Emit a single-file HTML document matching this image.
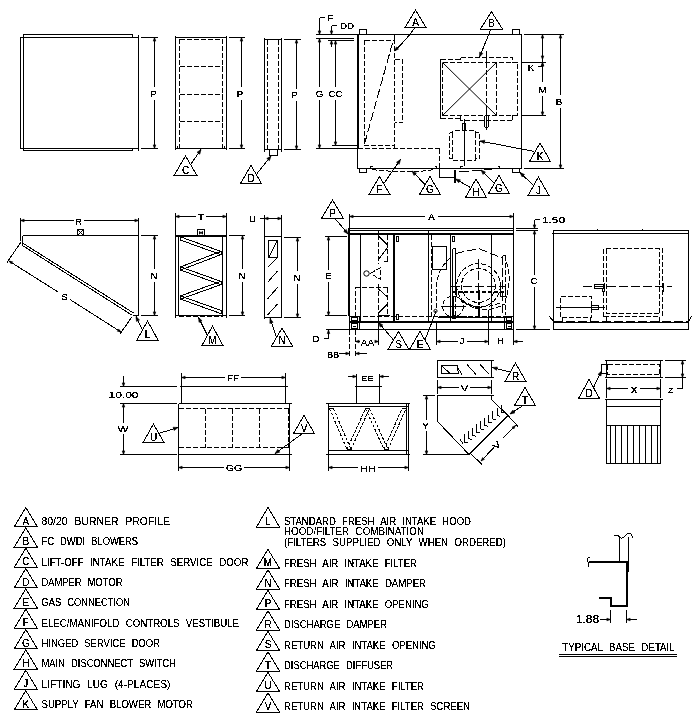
<!DOCTYPE html>
<html><head><meta charset="utf-8"><title>Unit dimensions</title>
<style>
html,body{margin:0;padding:0;background:#fff;}
body{width:700px;height:722px;overflow:hidden;font-family:"Liberation Sans",sans-serif;}
svg{display:block;position:absolute;left:0;top:0;}
.l{fill:none;stroke:#000;stroke-width:1;}
.d{fill:none;stroke:#000;stroke-width:1;stroke-dasharray:5 2;}
.d2{fill:none;stroke:#000;stroke-width:1;stroke-dasharray:3 1.5;}
.dl{fill:none;stroke:#000;stroke-width:1;stroke-dasharray:9 3;}
.k{fill:none;stroke:#000;stroke-width:2;}
.kl{fill:none;stroke:#000;stroke-width:2;stroke-dasharray:10 2 3 2;}
.kd{fill:none;stroke:#000;stroke-width:2;stroke-dasharray:4 2;}
.dx{fill:none;stroke:#000;stroke-width:1;}
.lg2{fill:none;stroke:#000;stroke-width:1;shape-rendering:geometricPrecision;}
.a{fill:#000;stroke:#000;stroke-width:.6;shape-rendering:geometricPrecision;}
.f{fill:#000;stroke:none;}
.tx,.lg{font-family:"Liberation Sans",sans-serif;fill:#000;}
.lg{word-spacing:4px;}
</style></head><body>
<svg width="700" height="722" viewBox="0 0 700 722" shape-rendering="crispEdges">
<defs><filter id="th" x="0" y="0" width="700" height="722" filterUnits="userSpaceOnUse" color-interpolation-filters="sRGB"><feComponentTransfer><feFuncA type="discrete" tableValues="0 0 0 1 1 1 1 1"/></feComponentTransfer></filter><filter id="th2" x="0" y="0" width="700" height="722" filterUnits="userSpaceOnUse" color-interpolation-filters="sRGB"><feComponentTransfer><feFuncA type="discrete" tableValues="0 0 1 1 1 1"/></feComponentTransfer></filter></defs>
<rect x="0" y="0" width="700" height="722" fill="#fff"/>
<path class="l" d="M23 34.5L132.5 34.5"/>
<path class="l" d="M20 37.5L138 37.5"/>
<path class="l" d="M132.5 34.5L132.5 37.5"/>
<path class="l" d="M20 148.5L138 148.5"/>
<path class="l" d="M23 150.5L132.5 150.5"/>
<path class="l" d="M132.5 148.5L132.5 150.5"/>
<path class="l" d="M20.5 37.5L20.5 148.5"/>
<path class="l" d="M23.5 34.5L23.5 150.5"/>
<path class="l" d="M138.5 35L138.5 151"/>
<path class="l" d="M141 37.5L158 37.5"/>
<path class="l" d="M141 148.5L158 148.5"/>
<path class="l" d="M154.5 37.5L154.5 87"/>
<path class="l" d="M154.5 100L154.5 148.5"/>
<path class="a" d="M154.5 37.5L155.8 41.1L153.2 41.1Z"/>
<path class="a" d="M154.5 148.5L153.2 144.9L155.8 144.9Z"/>
<path class="l" d="M175.5 35.5L175.5 150"/>
<path class="l" d="M226.5 35.5L226.5 150"/>
<path class="l" d="M175.5 37.5L226.5 37.5"/>
<path class="l" d="M175.5 148.5L226.5 148.5"/>
<path class="d" d="M179.5 39L179.5 148.5"/>
<path class="d" d="M222.5 39L222.5 148.5"/>
<path class="d" d="M179.5 39.5L222.5 39.5"/>
<path class="d" d="M179.5 66.5L222.5 66.5"/>
<path class="d" d="M179.5 94.5L222.5 94.5"/>
<path class="d" d="M179.5 121.5L222.5 121.5"/>
<path class="l" d="M177.5 146L177.5 148.5"/>
<path class="l" d="M224.5 146L224.5 148.5"/>
<path class="l" d="M229 37.5L245 37.5"/>
<path class="l" d="M229 148.5L245 148.5"/>
<path class="l" d="M241.5 37.5L241.5 87"/>
<path class="l" d="M241.5 100L241.5 148.5"/>
<path class="a" d="M241.5 37.5L242.8 41.1L240.2 41.1Z"/>
<path class="a" d="M241.5 148.5L240.2 144.9L242.8 144.9Z"/>
<path class="l" d="M185.5 156L174 175.5L197 175.5Z"/>
<path class="l" d="M191 164L201 149.5"/>
<path class="a" d="M201 149.5L199.79 154.25L196.99 152.32Z"/>
<path class="l" d="M264.5 37.5L264.5 152"/>
<path class="l" d="M281.5 37.5L281.5 152"/>
<path class="l" d="M264.5 39.5L281.5 39.5"/>
<path class="l" d="M264.5 149.5L281.5 149.5"/>
<path class="d" d="M267.5 39.5L267.5 149.5"/>
<path class="d" d="M278.5 39.5L278.5 149.5"/>
<path class="l" d="M269.5 149.5L277.5 149.5L277.5 155L269.5 155Z"/>
<path class="l" d="M284 39.5L300.5 39.5"/>
<path class="l" d="M284 149.5L300.5 149.5"/>
<path class="l" d="M296.5 39.5L296.5 89"/>
<path class="l" d="M296.5 101L296.5 149.5"/>
<path class="a" d="M296.5 39.5L297.8 43.1L295.2 43.1Z"/>
<path class="a" d="M296.5 149.5L295.2 145.9L297.8 145.9Z"/>
<path class="l" d="M251 165.5L240.5 183.5L261.5 183.5Z"/>
<path class="l" d="M257 173.5L271 156"/>
<path class="a" d="M271 156L269.45 160.65L266.8 158.53Z"/>
<path class="l" d="M316 34.5L357.5 34.5"/>
<path class="l" d="M316 38.5L354 38.5"/>
<path class="l" d="M327.5 40.5L354 40.5"/>
<path class="l" d="M319.5 17.5L319.5 34.5"/>
<path class="l" d="M319.5 17.5L325 17.5"/>
<path class="a" d="M319.5 34.5L318.2 30.9L320.8 30.9Z"/>
<path class="l" d="M331.5 25.5L331.5 34.5"/>
<path class="l" d="M331.5 25.5L337 25.5"/>
<path class="a" d="M331.5 34.5L330.2 30.9L332.8 30.9Z"/>
<path class="a" d="M331.5 40.5L332.8 44.1L330.2 44.1Z"/>
<path class="l" d="M331.5 40.5L331.5 47"/>
<path class="l" d="M319.5 38.5L319.5 87"/>
<path class="l" d="M319.5 100L319.5 148.5"/>
<path class="a" d="M319.5 38.5L320.8 42.1L318.2 42.1Z"/>
<path class="a" d="M319.5 148.5L318.2 144.9L320.8 144.9Z"/>
<path class="l" d="M335.5 40.5L335.5 87"/>
<path class="l" d="M335.5 100L335.5 145.5"/>
<path class="a" d="M335.5 40.5L336.8 44.1L334.2 44.1Z"/>
<path class="a" d="M335.5 145.5L334.2 141.9L336.8 141.9Z"/>
<path class="l" d="M316 148.5L357.5 148.5"/>
<path class="l" d="M332 145.5L357.5 145.5"/>
<path class="l" d="M357.5 34.5L521.5 34.5"/>
<path class="k" d="M358 34L358 149"/>
<path class="l" d="M357.5 149L357.5 168.5"/>
<path class="l" d="M521.5 34.5L521.5 168.5"/>
<path class="l" d="M357.5 168.5L521.5 168.5"/>
<path class="l" d="M359.5 29.5L366.5 29.5L366.5 34.5L359.5 34.5Z"/>
<path class="l" d="M512.5 29.5L519.5 29.5L519.5 34.5L512.5 34.5Z"/>
<path class="l" d="M359.5 168.5L366.5 168.5L366.5 172.5L359.5 172.5Z"/>
<path class="l" d="M512.5 168.5L519.5 168.5L519.5 172.5L512.5 172.5Z"/>
<path class="d" d="M364.5 40.5L394.5 40.5L394.5 145.5L364.5 145.5Z"/>
<path class="l" d="M394.5 34.5L394.5 40.5"/>
<path class="d" d="M394.5 145.5L394.5 148.5"/>
<path class="dl" d="M364.5 144L393 41"/>
<path class="d" d="M394.5 59.5L402.5 59.5L402.5 122.5L394.5 122.5"/>
<path class="d" d="M357.5 148.5L439.5 148.5"/>
<path class="d" d="M439.5 148.5L439.5 168.5"/>
<path class="l" d="M439.5 168.5L439.5 177.5"/>
<path class="l" d="M439.5 177.5L454 177.5"/>
<path class="k" d="M454.5 169.5L454.5 182.5"/>
<path class="l" d="M370.5 166L370.5 168.5"/>
<path class="l" d="M370.5 166L372.5 166"/>
<path class="d" d="M372 169.5 Q 392 172 412 171.5 T 436 168.5"/>
<path class="l" d="M436.5 166L436.5 168.5"/>
<path class="l" d="M434.5 166L436.5 166"/>
<path class="l" d="M460.5 166L460.5 168.5"/>
<path class="l" d="M460.5 166L462.5 166"/>
<path class="dl" d="M459.5 172 Q 478 170 494 169.5"/>
<path class="l" d="M499.5 166L499.5 168.5"/>
<path class="l" d="M497.5 166L499.5 166"/>
<path class="l" d="M440.5 59L440.5 118.5"/>
<path class="d" d="M442.5 62.5L442.5 115.5"/>
<path class="d" d="M440.5 59.5L460.5 59.5"/>
<path class="d" d="M440.5 118.5L460.5 118.5"/>
<path class="l" d="M460.5 59.5L460.5 57.5"/>
<path class="l" d="M460.5 115.5L460.5 120.5"/>
<path class="d" d="M460.5 57.5L512.5 57.5L512.5 62.5L517.5 62.5L517.5 115.5L512.5 115.5L512.5 120.5L460.5 120.5"/>
<path class="d" d="M442.5 62.5L517.5 62.5"/>
<path class="d" d="M442.5 115.5L517.5 115.5"/>
<path class="d" d="M496.5 62.5L496.5 115.5"/>
<path class="lg2" d="M442.5 62.5L496.5 115.5"/>
<path class="lg2" d="M442.5 115.5L496.5 62.5"/>
<path class="l" d="M486.5 51L486.5 63"/>
<path class="d" d="M486.5 63L486.5 107"/>
<path class="l" d="M486.5 107L486.5 130"/>
<path class="l" d="M484.5 115.5L484.5 126.5L485.5 127.5L487.5 127.5L488.5 126.5L488.5 115.5"/>
<path class="d" d="M449.5 132.5L452.5 132.5L452.5 130.5L475.5 130.5L475.5 132.5L479.5 132.5L479.5 158.5L475.5 158.5L475.5 160.5L452.5 160.5L452.5 158.5L449.5 158.5L449.5 132.5"/>
<path class="d" d="M452.5 132.5L452.5 158.5"/>
<path class="d" d="M475.5 132.5L475.5 158.5"/>
<path class="l" d="M464.5 118.5L464.5 166"/>
<path class="l" d="M462.5 123.5L465.5 123.5L465.5 130.5L462.5 130.5Z"/>
<path class="l" d="M521.5 62.5L546 62.5"/>
<path class="l" d="M521.5 115.5L546 115.5"/>
<path class="l" d="M542.5 34.5L542.5 59.5"/>
<path class="a" d="M542.5 34.5L543.8 38.1L541.2 38.1Z"/>
<path class="a" d="M542.5 59.5L541.2 55.9L543.8 55.9Z"/>
<path class="l" d="M542.5 59.5L542.5 62.5"/>
<path class="a" d="M542.5 62.5L543.8 66.1L541.2 66.1Z"/>
<path class="l" d="M542.5 62.5L542.5 81.5"/>
<path class="l" d="M542.5 96L542.5 115.5"/>
<path class="a" d="M542.5 62.5L543.8 66.1L541.2 66.1Z"/>
<path class="a" d="M542.5 115.5L541.2 111.9L543.8 111.9Z"/>
<path class="l" d="M538 66.5L542.5 66.5"/>
<path class="l" d="M524 34.5L563.5 34.5"/>
<path class="l" d="M524 168.5L563.5 168.5"/>
<path class="l" d="M560.5 34.5L560.5 94.5"/>
<path class="l" d="M560.5 108L560.5 168.5"/>
<path class="a" d="M560.5 34.5L561.8 38.1L559.2 38.1Z"/>
<path class="a" d="M560.5 168.5L559.2 164.9L561.8 164.9Z"/>
<path class="l" d="M415.5 10L405 27.5L426 27.5Z"/>
<path class="l" d="M415 27.5 Q 408 38 394.5 51"/>
<path class="a" d="M394.5 51L396.38 46.96L398.52 49.07Z"/>
<path class="l" d="M491.5 11.7L480.5 29L502.5 29Z"/>
<path class="l" d="M491 29L479.5 57"/>
<path class="a" d="M479.5 57L479.68 52.1L482.82 53.39Z"/>
<path class="l" d="M540 143L529.5 161.5L550.5 161.5Z"/>
<path class="l" d="M534.5 151.5L480 141"/>
<path class="a" d="M480 141L484.84 140.2L484.2 143.54Z"/>
<path class="l" d="M379.5 176.5L369 194.5L390 194.5Z"/>
<path class="l" d="M383.5 184L400.5 159.5"/>
<path class="a" d="M400.5 159.5L399.27 164.25L396.48 162.31Z"/>
<path class="l" d="M430 176.5L419.5 194.5L440.5 194.5Z"/>
<path class="l" d="M425 184.5L412 171"/>
<path class="a" d="M412 171L416.42 173.13L413.97 175.49Z"/>
<path class="l" d="M476 179L465.5 197.5L486.5 197.5Z"/>
<path class="l" d="M470.5 187.5L455.5 179"/>
<path class="a" d="M455.5 179L460.34 179.79L458.66 182.75Z"/>
<path class="l" d="M499 175.5L488.5 193.5L509.5 193.5Z"/>
<path class="l" d="M494.5 183.5L481 170"/>
<path class="a" d="M481 170L485.45 172.05L483.05 174.45Z"/>
<path class="l" d="M538.5 177L528 195.5L549 195.5Z"/>
<path class="l" d="M533.5 185.5L520 172.5"/>
<path class="a" d="M520 172.5L524.49 174.47L522.13 176.92Z"/>
<path class="l" d="M22.5 235.5L138.5 235.5"/>
<path class="l" d="M138.5 235.5L138.5 315.5"/>
<path class="l" d="M22.5 235.5L22.5 245.5"/>
<path class="l" d="M22.5 243L133.5 313"/>
<path class="l" d="M22.5 245.5L132.5 315.5"/>
<path class="l" d="M132.5 315.5L138.5 315.5"/>
<path class="l" d="M20.5 218L20.5 241"/>
<path class="l" d="M138.5 218L138.5 235"/>
<path class="l" d="M20.5 220.5L73.5 220.5"/>
<path class="l" d="M84 220.5L138.5 220.5"/>
<path class="a" d="M20.5 220.5L24.1 219.2L24.1 221.8Z"/>
<path class="a" d="M138.5 220.5L134.9 221.8L134.9 219.2Z"/>
<path class="l" d="M77.5 229.5L83.5 229.5L83.5 235.5L77.5 235.5Z"/>
<path class="l" d="M77.5 229.5L83.5 235.5"/>
<path class="l" d="M83.5 229.5L77.5 235.5"/>
<path class="l" d="M141 235.5L158 235.5"/>
<path class="l" d="M141 315.5L158 315.5"/>
<path class="l" d="M154.5 235.5L154.5 269"/>
<path class="l" d="M154.5 282L154.5 315.5"/>
<path class="a" d="M154.5 235.5L155.8 239.1L153.2 239.1Z"/>
<path class="a" d="M154.5 315.5L153.2 311.9L155.8 311.9Z"/>
<path class="l" d="M21 242L7 262.5"/>
<path class="l" d="M131.5 317.5L120 334"/>
<path class="l" d="M9 261L58 292"/>
<path class="l" d="M70 299.5L121 332"/>
<path class="a" d="M9 261L12.73 261.85L11.33 264.04Z"/>
<path class="a" d="M121 332L117.27 331.15L118.67 328.96Z"/>
<path class="l" d="M147.5 321L137 340L158 340Z"/>
<path class="l" d="M143 331L136 316.5"/>
<path class="a" d="M136 316.5L139.53 319.9L136.47 321.38Z"/>
<path class="l" d="M175.5 213L175.5 317.5"/>
<path class="l" d="M226.5 213L226.5 317.5"/>
<path class="l" d="M178.5 235.5L178.5 315.5"/>
<path class="l" d="M222.5 235.5L222.5 315.5"/>
<path class="l" d="M175.5 235.5L226.5 235.5"/>
<path class="l" d="M175.5 236.5L226.5 236.5"/>
<path class="l" d="M175.5 315.5L226.5 315.5"/>
<path class="d" d="M178.5 316.5L222.5 316.5"/>
<path class="l" d="M175.5 216.5L196 216.5"/>
<path class="l" d="M206 216.5L226.5 216.5"/>
<path class="a" d="M175.5 216.5L179.1 215.2L179.1 217.8Z"/>
<path class="a" d="M226.5 216.5L222.9 217.8L222.9 215.2Z"/>
<path class="l" d="M197.5 229.5L204.5 229.5L204.5 235.5L197.5 235.5Z"/>
<path class="lg2" d="M199.5 231.5L202.5 234L202.5 231.5L199.5 234Z"/>
<path class="l" d="M180.5 236.9L221 251.4"/>
<path class="l" d="M180.5 240.1L221 254.6"/>
<path class="l" d="M221 251.4L180.5 266.9"/>
<path class="l" d="M221 254.6L180.5 270.1"/>
<path class="l" d="M180.5 266.9L221 281.4"/>
<path class="l" d="M180.5 270.1L221 284.6"/>
<path class="l" d="M221 281.4L180.5 295.9"/>
<path class="l" d="M221 284.6L180.5 299.1"/>
<path class="l" d="M180.5 295.9L221 310.4"/>
<path class="l" d="M180.5 299.1L221 313.6"/>
<path class="l" d="M180.5 236.9L180.5 240.1"/>
<path class="l" d="M221 251.4L221 254.6"/>
<path class="l" d="M180.5 266.9L180.5 270.1"/>
<path class="l" d="M221 281.4L221 284.6"/>
<path class="l" d="M180.5 295.9L180.5 299.1"/>
<path class="l" d="M221 310.4L221 313.6"/>
<path class="l" d="M229 235.5L245 235.5"/>
<path class="l" d="M229 315.5L245 315.5"/>
<path class="l" d="M242.5 235.5L242.5 269"/>
<path class="l" d="M242.5 282L242.5 315.5"/>
<path class="a" d="M242.5 235.5L243.8 239.1L241.2 239.1Z"/>
<path class="a" d="M242.5 315.5L241.2 311.9L243.8 311.9Z"/>
<path class="l" d="M212.5 326L202 345.5L223 345.5Z"/>
<path class="l" d="M207.5 335.5L198.5 317.5"/>
<path class="a" d="M198.5 317.5L202.08 320.85L199.04 322.37Z"/>
<path class="l" d="M264.5 215L264.5 319"/>
<path class="l" d="M281.5 215L281.5 317.5"/>
<path class="l" d="M264.5 236.5L281.5 236.5"/>
<path class="l" d="M264.5 317.5L281.5 317.5"/>
<path class="l" d="M268.5 240.5L277.5 240.5L277.5 257.5L268.5 257.5Z"/>
<path class="l" d="M268.5 257.5L277.5 240.5"/>
<path class="l" d="M267.5 267.5L277.5 257.5"/>
<path class="l" d="M267.5 282.5L277.5 271"/>
<path class="l" d="M267.5 299L277.5 287.5"/>
<path class="l" d="M267.5 315L277.5 304"/>
<path class="l" d="M259.5 218.5L281.5 218.5"/>
<path class="a" d="M264.5 218.5L268.1 217.2L268.1 219.8Z"/>
<path class="a" d="M281.5 218.5L277.9 219.8L277.9 217.2Z"/>
<path class="l" d="M284 237.5L301 237.5"/>
<path class="l" d="M284 317.5L301 317.5"/>
<path class="l" d="M297.5 237.5L297.5 271"/>
<path class="l" d="M297.5 284L297.5 317.5"/>
<path class="a" d="M297.5 237.5L298.8 241.1L296.2 241.1Z"/>
<path class="a" d="M297.5 317.5L296.2 313.9L298.8 313.9Z"/>
<path class="l" d="M282 328L271.5 346L292.5 346Z"/>
<path class="l" d="M276.5 337.5L270 318.5"/>
<path class="a" d="M270 318.5L273.1 322.3L269.88 323.4Z"/>
<path class="l" d="M349.5 213.5L349.5 229"/>
<path class="l" d="M513.5 213L513.5 229"/>
<path class="l" d="M349.5 216.5L425 216.5"/>
<path class="l" d="M438 216.5L513.5 216.5"/>
<path class="a" d="M349.5 216.5L353.1 215.2L353.1 217.8Z"/>
<path class="a" d="M513.5 216.5L509.9 217.8L509.9 215.2Z"/>
<path class="l" d="M348 228.5L513.5 228.5"/>
<path class="l" d="M348 230.5L513.5 230.5"/>
<path class="f" d="M348 233L513.5 233L513.5 235.4L348 235.4Z"/>
<path class="k" d="M349 228L349 316"/>
<path class="l" d="M349.5 316L349.5 329.5"/>
<path class="l" d="M513.5 228.5L513.5 329.5"/>
<path class="d" d="M349 316.5L513 316.5"/>
<path class="k" d="M349 322L513.5 322"/>
<path class="l" d="M349 329.5L513.5 329.5"/>
<path class="l" d="M360.5 235L360.5 320.5"/>
<path class="l" d="M378.5 230.5L378.5 234"/>
<path class="l" d="M394.5 235L394.5 321"/>
<path class="l" d="M393.5 235L393.5 321"/>
<path class="l" d="M428.5 230.5L428.5 321"/>
<path class="d" d="M431.5 235L431.5 316.5"/>
<path class="l" d="M450.5 235L450.5 321"/>
<path class="l" d="M491.5 235L491.5 321"/>
<path class="l" d="M396.5 236.5L398.5 236.5L398.5 241.5L396.5 241.5Z"/>
<path class="l" d="M396.5 314.5L398.5 314.5L398.5 319.5L396.5 319.5Z"/>
<path class="l" d="M452.5 236.5L454.5 236.5L454.5 241.5L452.5 241.5Z"/>
<path class="d" d="M378.5 235L378.5 263.5"/>
<path class="d" d="M387.5 235L387.5 261.5"/>
<path class="l" d="M383.5 261.5L387.5 261.5"/>
<path class="l" d="M378.5 236L387.5 245"/>
<path class="l" d="M387.5 247.5L379 259"/>
<path class="d" d="M378.5 284L378.5 316.5"/>
<path class="d" d="M387.5 287.5L387.5 316.5"/>
<path class="l" d="M378.5 315.5L390 315.5"/>
<path class="l" d="M378.5 289L387.5 297"/>
<path class="l" d="M387.5 304L378.5 313"/>
<path class="d" d="M355.5 316.5L355.5 287.5L387.5 287.5"/>
<circle class="lg2" cx="366.5" cy="273.5" r="2.7"/>
<path class="d" d="M370.5 273.5L380.5 267.5L380.5 279.5Z"/>
<path class="l" d="M432.5 246.5L446.5 246.5L446.5 269L432.5 269Z"/>
<circle class="d" cx="478.5" cy="285.5" r="21.8"/>
<circle class="d" cx="478.5" cy="285.5" r="17"/>
<path class="dl" d="M478.5 259L478.5 290"/>
<path class="kl" d="M478.5 290L478.5 316.5"/>
<path class="dl" d="M450.5 286.5L505.5 286.5"/>
<path class="kd" d="M452 291.5L505.5 291.5"/>
<path class="l" d="M452.5 286.5L456.5 286.5L456.5 296L452.5 296Z"/>
<path class="l" d="M500.5 286.5L505.5 286.5L505.5 296L500.5 296Z"/>
<path class="l" d="M452.5 248.5L452.5 316.5"/>
<path class="l" d="M455.5 248.5L455.5 290"/>
<path class="d" d="M455.5 290L455.5 316.5"/>
<path class="l" d="M452.5 248.5L455.5 248.5"/>
<path class="dl" d="M502.5 255.5L502.5 314.5"/>
<path class="d" d="M505.5 255.5L505.5 314.5"/>
<path class="l" d="M502.5 255.5L505.5 255.5"/>
<path class="dl" d="M455.5 253.5L478.5 248.5L503.5 258.5"/>
<path class="d" d="M506.5 262 Q 512 280 506 298"/>
<path class="d" d="M458 297 Q 478 318 505 304"/>
<path class="d" d="M462 300 Q 478 312 500 303"/>
<circle class="d" cx="453" cy="306.5" r="10.4"/>
<path class="l" d="M440.5 306.5L465.5 306.5"/>
<path class="l" d="M453.5 296L453.5 316.5"/>
<path class="kd" d="M438.5 316.5L468.5 316.5"/>
<path class="f" d="M451.5 314.5L455.5 314.5L455.5 318.5L451.5 318.5Z"/>
<path class="d" d="M450.5 258 Q 438 268 436.5 285 L 436 309"/>
<circle class="lg2" cx="435.5" cy="311" r="1.6"/>
<path class="l" d="M437.5 317.5L505.5 317.5"/>
<path class="l" d="M349.5 316.5L359.5 316.5L359.5 329.5L349.5 329.5Z"/>
<path class="l" d="M351.5 317.5L357.5 317.5L357.5 320.5L351.5 320.5Z"/>
<path class="l" d="M351.5 323.5L357.5 323.5L357.5 328.5L351.5 328.5Z"/>
<path class="l" d="M353 326L356 326"/>
<path class="l" d="M504.5 316.5L513.5 316.5L513.5 329.5L504.5 329.5Z"/>
<path class="l" d="M506.5 317.5L511.5 317.5L511.5 320.5L506.5 320.5Z"/>
<path class="l" d="M506.5 323.5L511.5 323.5L511.5 328.5L506.5 328.5Z"/>
<path class="l" d="M508 326L511 326"/>
<path class="l" d="M325 236.5L346.5 236.5"/>
<path class="l" d="M325 315.5L346.5 315.5"/>
<path class="l" d="M328.5 236.5L328.5 270"/>
<path class="l" d="M328.5 282L328.5 315.5"/>
<path class="a" d="M328.5 236.5L329.8 240.1L327.2 240.1Z"/>
<path class="a" d="M328.5 315.5L327.2 311.9L329.8 311.9Z"/>
<path class="l" d="M326 329.5L349 329.5"/>
<path class="l" d="M328.5 329.5L328.5 338.5"/>
<path class="l" d="M323.5 338.5L328.5 338.5"/>
<path class="a" d="M328.5 330L329.8 333.6L327.2 333.6Z"/>
<path class="d" d="M349.5 329.5L349.5 357.5"/>
<path class="d" d="M355.5 329.5L355.5 357.5"/>
<path class="l" d="M378.5 316.5L378.5 345"/>
<path class="l" d="M355.5 341.5L360 341.5"/>
<path class="l" d="M375 341.5L378.5 341.5"/>
<path class="a" d="M355.5 341.5L359.1 340.2L359.1 342.8Z"/>
<path class="a" d="M378.5 341.5L374.9 342.8L374.9 340.2Z"/>
<path class="l" d="M339 353.5L349.5 353.5"/>
<path class="a" d="M349.5 353.5L345.9 354.8L345.9 352.2Z"/>
<path class="l" d="M355.5 353.5L366.5 353.5"/>
<path class="a" d="M355.5 353.5L359.1 352.2L359.1 354.8Z"/>
<path class="l" d="M436.5 323L436.5 344.5"/>
<path class="l" d="M488.5 310L488.5 344.5"/>
<path class="l" d="M436.5 341.5L458 341.5"/>
<path class="l" d="M467 341.5L488.5 341.5"/>
<path class="a" d="M436.5 341.5L440.1 340.2L440.1 342.8Z"/>
<path class="a" d="M488.5 341.5L484.9 342.8L484.9 340.2Z"/>
<path class="l" d="M513.5 329L513.5 344.5"/>
<path class="l" d="M513.5 341.5L523 341.5"/>
<path class="a" d="M513.5 341.5L517.1 340.2L517.1 342.8Z"/>
<path class="l" d="M515.5 228.5L538 228.5"/>
<path class="l" d="M515.5 230.5L538 230.5"/>
<path class="l" d="M516 329.5L550 329.5"/>
<path class="l" d="M534.5 230.5L534.5 275"/>
<path class="l" d="M534.5 287L534.5 329.5"/>
<path class="a" d="M534.5 230.5L535.8 234.1L533.2 234.1Z"/>
<path class="a" d="M534.5 329.5L533.2 325.9L535.8 325.9Z"/>
<path class="l" d="M534.5 219.5L534.5 228.5"/>
<path class="l" d="M534.5 219.5L540 219.5"/>
<path class="a" d="M534.5 228.5L533.2 224.9L535.8 224.9Z"/>
<path class="l" d="M332.5 200L321.5 218.5L343.5 218.5Z"/>
<path class="l" d="M335 218.5L348 234"/>
<path class="a" d="M348 234L343.74 231.57L346.35 229.38Z"/>
<path class="l" d="M398.5 331.5L388 349.5L409 349.5Z"/>
<path class="l" d="M393.5 340L378.5 322.5"/>
<path class="a" d="M378.5 322.5L382.78 324.89L380.2 327.1Z"/>
<path class="l" d="M420 331.5L409.5 349.5L430.5 349.5Z"/>
<path class="l" d="M425 340 Q 431 325 436 311"/>
<path class="l" d="M553.5 230.5L688.5 230.5L688.5 329.5L553.5 329.5Z"/>
<path class="l" d="M552 233.5L689 233.5"/>
<path class="l" d="M597.5 228.5L597.5 230.5"/>
<path class="l" d="M642.5 228.5L642.5 230.5"/>
<path class="dl" d="M553.5 321.5L688.5 321.5"/>
<path class="l" d="M553.5 322.5L688.5 322.5"/>
<path class="l" d="M549.5 316.5L553.5 321.5"/>
<path class="l" d="M691.5 316.5L688.5 321.5"/>
<path class="d" d="M603.5 316.5L603.5 248.5L662.5 248.5L662.5 316.5"/>
<path class="d" d="M603.5 316.5L660 316.5"/>
<path class="d" d="M606.5 248.5L606.5 313.5L659.5 313.5L659.5 248.5"/>
<path class="l" d="M606.5 316.5L606.5 321.5"/>
<path class="l" d="M659.5 316.5L659.5 321.5"/>
<path class="dl" d="M583 286.5L672 286.5"/>
<path class="l" d="M603 284.5L594.5 284.5L594.5 288.5L603 288.5"/>
<path class="l" d="M604.5 283L604.5 292"/>
<path class="l" d="M602.5 289L602.5 292"/>
<path class="l" d="M663.5 283L663.5 292"/>
<path class="d" d="M560.5 296.5L591.5 296.5L591.5 317.5L560.5 317.5Z"/>
<path class="l" d="M556 307.5L604.5 307.5"/>
<path class="l" d="M591.5 305.5L598.5 305.5L598.5 309.5L591.5 309.5Z"/>
<path class="l" d="M562.5 317.5L562.5 321.5"/>
<path class="l" d="M590.5 317.5L590.5 321.5"/>
<path class="l" d="M120 386.5L176.5 386.5"/>
<path class="l" d="M180 386.5L287.5 386.5"/>
<path class="l" d="M120 403.5L176.5 403.5"/>
<path class="l" d="M178.5 403.5L291.5 403.5"/>
<path class="l" d="M120 454.5L176.5 454.5"/>
<path class="l" d="M178.5 454.5L291.5 454.5"/>
<path class="l" d="M181.5 373L181.5 403.5"/>
<path class="l" d="M285.5 373L285.5 403.5"/>
<path class="l" d="M178.5 403.5L178.5 454.5"/>
<path class="l" d="M289.5 403.5L289.5 454.5"/>
<path class="d" d="M178.5 408.5L288.5 408.5"/>
<path class="d" d="M178.5 447.5L288.5 447.5"/>
<path class="d" d="M205.5 408.5L205.5 447.5"/>
<path class="d" d="M232.5 408.5L232.5 447.5"/>
<path class="d" d="M259.5 408.5L259.5 447.5"/>
<path class="d" d="M288.5 408.5L288.5 447.5"/>
<path class="l" d="M181.5 377.5L225 377.5"/>
<path class="l" d="M240.5 377.5L285.5 377.5"/>
<path class="a" d="M181.5 377.5L185.1 376.2L185.1 378.8Z"/>
<path class="a" d="M285.5 377.5L281.9 378.8L281.9 376.2Z"/>
<path class="l" d="M178.5 454.5L178.5 470.5"/>
<path class="l" d="M289.5 454.5L289.5 470.5"/>
<path class="l" d="M178.5 467.5L224 467.5"/>
<path class="l" d="M244 467.5L289.5 467.5"/>
<path class="a" d="M178.5 467.5L182.1 466.2L182.1 468.8Z"/>
<path class="a" d="M289.5 467.5L285.9 468.8L285.9 466.2Z"/>
<path class="l" d="M123.5 376L123.5 386.5"/>
<path class="a" d="M123.5 386.5L122.2 382.9L124.8 382.9Z"/>
<path class="l" d="M123.5 403.5L123.5 423"/>
<path class="l" d="M123.5 434L123.5 454.5"/>
<path class="a" d="M123.5 403.5L124.8 407.1L122.2 407.1Z"/>
<path class="a" d="M123.5 454.5L122.2 450.9L124.8 450.9Z"/>
<path class="l" d="M153.5 424L143 442.5L164 442.5Z"/>
<path class="l" d="M158.5 433.5L178 427.5"/>
<path class="a" d="M178 427.5L174.1 430.48L173.1 427.23Z"/>
<path class="l" d="M304 415.5L293.5 433.5L314.5 433.5Z"/>
<path class="l" d="M302.5 433.5L275 453.5"/>
<path class="a" d="M275 453.5L277.72 449.42L279.72 452.17Z"/>
<path class="l" d="M356.5 373.5L356.5 403.5"/>
<path class="l" d="M379.5 373.5L379.5 403.5"/>
<path class="l" d="M354.5 386.5L381.5 386.5"/>
<path class="l" d="M347.5 376.5L356.5 376.5"/>
<path class="a" d="M356.5 376.5L352.9 377.8L352.9 375.2Z"/>
<path class="l" d="M379.5 376.5L388.5 376.5"/>
<path class="a" d="M379.5 376.5L383.1 375.2L383.1 377.8Z"/>
<path class="l" d="M326 403.5L410 403.5"/>
<path class="l" d="M326 454.5L410 454.5"/>
<path class="l" d="M328.5 403.5L328.5 454.5"/>
<path class="l" d="M408.5 403.5L408.5 454.5"/>
<path class="l" d="M406.5 403.5L406.5 454.5"/>
<path class="l" d="M328.5 406.5L408.5 406.5"/>
<path class="l" d="M328.5 450.5L408.5 450.5"/>
<path class="d2" d="M329.5 408.5L347 449.5"/>
<path class="d2" d="M333.5 408.5L351 449.5"/>
<path class="d2" d="M347 449.5L365.5 408.5"/>
<path class="d2" d="M351 449.5L369.5 408.5"/>
<path class="d2" d="M365.5 408.5L384 449.5"/>
<path class="d2" d="M369.5 408.5L388 449.5"/>
<path class="d2" d="M384 449.5L402 408.5"/>
<path class="d2" d="M388 449.5L406 408.5"/>
<path class="l" d="M329.5 408.5L333.5 408.5"/>
<path class="l" d="M347 449.5L351 449.5"/>
<path class="l" d="M365.5 408.5L369.5 408.5"/>
<path class="l" d="M384 449.5L388 449.5"/>
<path class="l" d="M402 408.5L406 408.5"/>
<path class="l" d="M328.5 454.5L328.5 470.5"/>
<path class="l" d="M408.5 454.5L408.5 470.5"/>
<path class="l" d="M328.5 467.5L358 467.5"/>
<path class="l" d="M378 467.5L408.5 467.5"/>
<path class="a" d="M328.5 467.5L332.1 466.2L332.1 468.8Z"/>
<path class="a" d="M408.5 467.5L404.9 468.8L404.9 466.2Z"/>
<path class="l" d="M436.5 360.5L493.5 360.5"/>
<path class="l" d="M436.5 377.5L493.5 377.5"/>
<path class="l" d="M437.5 360.5L437.5 377.5"/>
<path class="l" d="M491.5 360.5L491.5 377.5"/>
<path class="l" d="M441.5 365.5L457 365.5L458.5 373.5L441.5 373.5Z"/>
<path class="l" d="M441.5 365.5L450 373.5"/>
<path class="l" d="M457 366.5L462 374.5"/>
<path class="l" d="M467 364.5L476 374.5"/>
<path class="l" d="M480 364.5L489.5 374.5"/>
<path class="l" d="M515.5 363L505 381.5L526 381.5Z"/>
<path class="l" d="M510 372L492.5 367.5"/>
<path class="a" d="M492.5 367.5L497.38 367L496.53 370.29Z"/>
<path class="l" d="M437.5 380L437.5 394"/>
<path class="l" d="M491.5 380L491.5 394"/>
<path class="l" d="M437.5 387.5L459 387.5"/>
<path class="l" d="M470 387.5L491.5 387.5"/>
<path class="a" d="M437.5 387.5L441.1 386.2L441.1 388.8Z"/>
<path class="a" d="M491.5 387.5L487.9 388.8L487.9 386.2Z"/>
<path class="l" d="M493.5 395.5L436.5 395.5"/>
<path class="l" d="M437.5 395.5L437.5 421.5L469 454.5L508 415.5L491.5 399.5L491.5 395.5"/>
<path class="l" d="M471 452.5L506 417.5"/>
<path class="l" d="M464.5 434.3L464.5 442.1L467.5 442.7"/>
<path class="l" d="M468.57 431L468.57 438.8L471.57 439.4"/>
<path class="l" d="M472.64 427.7L472.64 435.5L475.64 436.1"/>
<path class="l" d="M476.71 424.4L476.71 432.2L479.71 432.8"/>
<path class="l" d="M480.78 421.1L480.78 428.9L483.78 429.5"/>
<path class="l" d="M484.85 417.8L484.85 425.6L487.85 426.2"/>
<path class="l" d="M488.92 414.5L488.92 422.3L491.92 422.9"/>
<path class="l" d="M492.99 411.2L492.99 419L495.99 419.6"/>
<path class="l" d="M497.06 407.9L497.06 415.7L500.06 416.3"/>
<path class="l" d="M501.13 404.6L501.13 412.4L504.13 413"/>
<path class="l" d="M460 439.5L463 443.5"/>
<path class="l" d="M423 395.5L435 395.5"/>
<path class="l" d="M423 454.5L469 454.5"/>
<path class="l" d="M426.5 395.5L426.5 420"/>
<path class="l" d="M426.5 431L426.5 454.5"/>
<path class="a" d="M426.5 395.5L427.8 399.1L425.2 399.1Z"/>
<path class="a" d="M426.5 454.5L425.2 450.9L427.8 450.9Z"/>
<path class="l" d="M470.5 453.5L482 464.5"/>
<path class="l" d="M508 415.5L518 426.5"/>
<path class="l" d="M481 461L494 447.5"/>
<path class="l" d="M503 438L515.5 425.5"/>
<path class="a" d="M481 461L482.63 457.54L484.46 459.37Z"/>
<path class="a" d="M515.5 425.5L513.87 428.96L512.04 427.13Z"/>
<path class="l" d="M525 387.5L514.5 405.5L535.5 405.5Z"/>
<path class="l" d="M523 405.5L510 414"/>
<path class="a" d="M510 414L512.92 410.06L514.78 412.91Z"/>
<path class="l" d="M604.5 360.5L662.5 360.5"/>
<path class="l" d="M604.5 377.5L662.5 377.5"/>
<path class="l" d="M606.5 360.5L606.5 377.5"/>
<path class="l" d="M660.5 360.5L660.5 377.5"/>
<path class="d" d="M607.5 364.5L659.5 364.5L659.5 374.5L607.5 374.5Z"/>
<path class="l" d="M606.5 364.5L601.5 364.5L601.5 373.5L606.5 373.5"/>
<path class="l" d="M665 360.5L686 360.5"/>
<path class="l" d="M665 377.5L686 377.5"/>
<path class="l" d="M682.5 360.5L682.5 377.5"/>
<path class="a" d="M682.5 360.5L683.8 364.1L681.2 364.1Z"/>
<path class="a" d="M682.5 377.5L681.2 373.9L683.8 373.9Z"/>
<path class="l" d="M682.5 377.5L682.5 388.5"/>
<path class="l" d="M677 388.5L682.5 388.5"/>
<path class="l" d="M606.5 378.5L606.5 397.5"/>
<path class="l" d="M660.5 378.5L660.5 397.5"/>
<path class="l" d="M606.5 388.5L628 388.5"/>
<path class="l" d="M640 388.5L660.5 388.5"/>
<path class="a" d="M606.5 388.5L610.1 387.2L610.1 389.8Z"/>
<path class="a" d="M660.5 388.5L656.9 389.8L656.9 387.2Z"/>
<path class="l" d="M604.5 399.5L663 399.5"/>
<path class="l" d="M606.5 406.5L660.5 406.5"/>
<path class="l" d="M606.5 425.5L660.5 425.5"/>
<path class="l" d="M606.5 463.5L660.5 463.5"/>
<path class="l" d="M606.5 399.5L606.5 463.5"/>
<path class="l" d="M660.5 399.5L660.5 463.5"/>
<path class="l" d="M610.5 425.5L610.5 463.5"/>
<path class="l" d="M615.5 425.5L615.5 463.5"/>
<path class="l" d="M621.5 425.5L621.5 463.5"/>
<path class="l" d="M627.5 425.5L627.5 463.5"/>
<path class="l" d="M633.5 425.5L633.5 463.5"/>
<path class="l" d="M639.5 425.5L639.5 463.5"/>
<path class="l" d="M645.5 425.5L645.5 463.5"/>
<path class="l" d="M651.5 425.5L651.5 463.5"/>
<path class="l" d="M657.5 425.5L657.5 463.5"/>
<path class="l" d="M589 379.5L578.5 398.5L599.5 398.5Z"/>
<path class="l" d="M593.5 387.5L601.5 371"/>
<path class="a" d="M601.5 371L601.02 375.88L597.96 374.4Z"/>
<path class="l" d="M25.8 507.5L14.2 526.8L37.4 526.8Z"/>
<path class="l" d="M25.8 527.85L14.2 547.15L37.4 547.15Z"/>
<path class="l" d="M25.8 548.2L14.2 567.5L37.4 567.5Z"/>
<path class="l" d="M25.8 568.55L14.2 587.85L37.4 587.85Z"/>
<path class="l" d="M25.8 588.9L14.2 608.2L37.4 608.2Z"/>
<path class="l" d="M25.8 609.25L14.2 628.55L37.4 628.55Z"/>
<path class="l" d="M25.8 629.6L14.2 648.9L37.4 648.9Z"/>
<path class="l" d="M25.8 649.95L14.2 669.25L37.4 669.25Z"/>
<path class="l" d="M25.8 670.3L14.2 689.6L37.4 689.6Z"/>
<path class="l" d="M25.8 690.65L14.2 709.95L37.4 709.95Z"/>
<path class="l" d="M268 507.3L256.4 527.2L279.6 527.2Z"/>
<path class="l" d="M268 549.3L256.4 568.6L279.6 568.6Z"/>
<path class="l" d="M268 569.8L256.4 589.1L279.6 589.1Z"/>
<path class="l" d="M268 590.3L256.4 609.6L279.6 609.6Z"/>
<path class="l" d="M268 610.8L256.4 630.1L279.6 630.1Z"/>
<path class="l" d="M268 631.3L256.4 650.6L279.6 650.6Z"/>
<path class="l" d="M268 651.8L256.4 671.1L279.6 671.1Z"/>
<path class="l" d="M268 672.3L256.4 691.6L279.6 691.6Z"/>
<path class="l" d="M268 692.8L256.4 712.1L279.6 712.1Z"/>
<path class="l" d="M619.5 536L619.5 561.5"/>
<path class="l" d="M628.5 537L628.5 571.5"/>
<path class="l" d="M626.5 571.5L628.5 571.5"/>
<path class="l" d="M614 535.5 Q 617 534 619.5 537 T 626 535 T 633 537.5"/>
<path class="l" d="M590 557 Q 586 558 588 562 T 588 566.5"/>
<path class="k" d="M588.5 562L627.5 562"/>
<path class="k" d="M626.5 561L626.5 606.5"/>
<path class="k" d="M610 605.5L627.5 605.5"/>
<path class="k" d="M611 597L611 606.5"/>
<path class="k" d="M599 597.5L612 597.5"/>
<path class="l" d="M610.5 609.5L610.5 623"/>
<path class="l" d="M626.5 609.5L626.5 623"/>
<path class="l" d="M600 619.5L610.5 619.5"/>
<path class="a" d="M610.5 619.5L606.9 620.8L606.9 618.2Z"/>
<path class="l" d="M626.5 619.5L637 619.5"/>
<path class="a" d="M626.5 619.5L630.1 618.2L630.1 620.8Z"/>
<path class="l" d="M559 654.5L677 654.5"/>
<path class="l" d="M559 656.5L677 656.5"/>
<g filter="url(#th)">
<text class="lg" x="185.5" y="173.5" font-size="10" text-anchor="middle">C</text>
<text class="lg" x="251" y="181.5" font-size="10" text-anchor="middle">D</text>
<text class="lg" x="415.5" y="25.5" font-size="10" text-anchor="middle">A</text>
<text class="lg" x="491.5" y="27" font-size="10" text-anchor="middle">B</text>
<text class="lg" x="540" y="159.5" font-size="10" text-anchor="middle">K</text>
<text class="lg" x="379.5" y="192.5" font-size="10" text-anchor="middle">F</text>
<text class="lg" x="430" y="192.5" font-size="10" text-anchor="middle">G</text>
<text class="lg" x="476" y="195.5" font-size="10" text-anchor="middle">H</text>
<text class="lg" x="499" y="191.5" font-size="10" text-anchor="middle">G</text>
<text class="lg" x="538.5" y="193.5" font-size="10" text-anchor="middle">J</text>
<text class="lg" x="147.5" y="338" font-size="10" text-anchor="middle">L</text>
<text class="lg" x="212.5" y="343.5" font-size="10" text-anchor="middle">M</text>
<text class="lg" x="282" y="344" font-size="10" text-anchor="middle">N</text>
<text class="lg" x="332.5" y="216.5" font-size="10" text-anchor="middle">P</text>
<text class="lg" x="398.5" y="347.5" font-size="10" text-anchor="middle">S</text>
<text class="lg" x="420" y="347.5" font-size="10" text-anchor="middle">E</text>
<text class="lg" x="153.5" y="440.5" font-size="10" text-anchor="middle">U</text>
<text class="lg" x="304" y="431.5" font-size="10" text-anchor="middle">V</text>
<text class="lg" x="515.5" y="379.5" font-size="10" text-anchor="middle">R</text>
<text class="lg" x="525" y="403.5" font-size="10" text-anchor="middle">T</text>
<text class="lg" x="589" y="396.5" font-size="10" text-anchor="middle">D</text>
<text class="lg" x="25.8" y="524.6" font-size="10" text-anchor="middle">A</text>
<text class="lg" x="41.5" y="525" font-size="10.6" text-anchor="start" textLength="128.5" lengthAdjust="spacingAndGlyphs">80/20 BURNER PROFILE</text>
<text class="lg" x="25.8" y="544.95" font-size="10" text-anchor="middle">B</text>
<text class="lg" x="41.5" y="545.35" font-size="10.6" text-anchor="start" textLength="96.5" lengthAdjust="spacingAndGlyphs">FC DWDI BLOWERS</text>
<text class="lg" x="25.8" y="565.3" font-size="10" text-anchor="middle">C</text>
<text class="lg" x="41.5" y="565.7" font-size="10.6" text-anchor="start" textLength="207" lengthAdjust="spacingAndGlyphs">LIFT-OFF INTAKE FILTER SERVICE DOOR</text>
<text class="lg" x="25.8" y="585.65" font-size="10" text-anchor="middle">D</text>
<text class="lg" x="41.5" y="586.05" font-size="10.6" text-anchor="start" textLength="81" lengthAdjust="spacingAndGlyphs">DAMPER MOTOR</text>
<text class="lg" x="25.8" y="606" font-size="10" text-anchor="middle">E</text>
<text class="lg" x="41.5" y="606.4" font-size="10.6" text-anchor="start" textLength="88.5" lengthAdjust="spacingAndGlyphs">GAS CONNECTION</text>
<text class="lg" x="25.8" y="626.35" font-size="10" text-anchor="middle">F</text>
<text class="lg" x="41.5" y="626.75" font-size="10.6" text-anchor="start" textLength="197.5" lengthAdjust="spacingAndGlyphs">ELEC/MANIFOLD CONTROLS VESTIBULE</text>
<text class="lg" x="25.8" y="646.7" font-size="10" text-anchor="middle">G</text>
<text class="lg" x="41.5" y="647.1" font-size="10.6" text-anchor="start" textLength="118.5" lengthAdjust="spacingAndGlyphs">HINGED SERVICE DOOR</text>
<text class="lg" x="25.8" y="667.05" font-size="10" text-anchor="middle">H</text>
<text class="lg" x="41.5" y="667.45" font-size="10.6" text-anchor="start" textLength="134.5" lengthAdjust="spacingAndGlyphs">MAIN DISCONNECT SWITCH</text>
<text class="lg" x="25.8" y="687.4" font-size="10" text-anchor="middle">J</text>
<text class="lg" x="41.5" y="687.8" font-size="10.6" text-anchor="start" textLength="129" lengthAdjust="spacingAndGlyphs">LIFTING LUG (4-PLACES)</text>
<text class="lg" x="25.8" y="707.75" font-size="10" text-anchor="middle">K</text>
<text class="lg" x="41.5" y="708.15" font-size="10.6" text-anchor="start" textLength="151.5" lengthAdjust="spacingAndGlyphs">SUPPLY FAN BLOWER MOTOR</text>
<text class="lg" x="268" y="525" font-size="10" text-anchor="middle">L</text>
<text class="lg" x="284" y="524.8" font-size="10.6" text-anchor="start" textLength="187" lengthAdjust="spacingAndGlyphs">STANDARD FRESH AIR INTAKE HOOD</text>
<text class="lg" x="284" y="535.4" font-size="10.6" text-anchor="start" textLength="140" lengthAdjust="spacingAndGlyphs">HOOD/FILTER COMBINATION</text>
<text class="lg" x="284" y="546" font-size="10.6" text-anchor="start" textLength="222" lengthAdjust="spacingAndGlyphs">(FILTERS SUPPLIED ONLY WHEN ORDERED)</text>
<text class="lg" x="268" y="566.4" font-size="10" text-anchor="middle">M</text>
<text class="lg" x="284" y="566.8" font-size="10.6" text-anchor="start" textLength="133" lengthAdjust="spacingAndGlyphs">FRESH AIR INTAKE FILTER</text>
<text class="lg" x="268" y="586.9" font-size="10" text-anchor="middle">N</text>
<text class="lg" x="284" y="587.3" font-size="10.6" text-anchor="start" textLength="142" lengthAdjust="spacingAndGlyphs">FRESH AIR INTAKE DAMPER</text>
<text class="lg" x="268" y="607.4" font-size="10" text-anchor="middle">P</text>
<text class="lg" x="284" y="607.8" font-size="10.6" text-anchor="start" textLength="145" lengthAdjust="spacingAndGlyphs">FRESH AIR INTAKE OPENING</text>
<text class="lg" x="268" y="627.9" font-size="10" text-anchor="middle">R</text>
<text class="lg" x="284" y="628.3" font-size="10.6" text-anchor="start" textLength="103" lengthAdjust="spacingAndGlyphs">DISCHARGE DAMPER</text>
<text class="lg" x="268" y="648.4" font-size="10" text-anchor="middle">S</text>
<text class="lg" x="284" y="648.8" font-size="10.6" text-anchor="start" textLength="152" lengthAdjust="spacingAndGlyphs">RETURN AIR INTAKE OPENING</text>
<text class="lg" x="268" y="668.9" font-size="10" text-anchor="middle">T</text>
<text class="lg" x="284" y="669.3" font-size="10.6" text-anchor="start" textLength="109" lengthAdjust="spacingAndGlyphs">DISCHARGE DIFFUSER</text>
<text class="lg" x="268" y="689.4" font-size="10" text-anchor="middle">U</text>
<text class="lg" x="284" y="689.8" font-size="10.6" text-anchor="start" textLength="140" lengthAdjust="spacingAndGlyphs">RETURN AIR INTAKE FILTER</text>
<text class="lg" x="268" y="709.9" font-size="10" text-anchor="middle">V</text>
<text class="lg" x="284" y="710.3" font-size="10.6" text-anchor="start" textLength="186" lengthAdjust="spacingAndGlyphs">RETURN AIR INTAKE FILTER SCREEN</text>
<text class="lg" x="587.5" y="622.5" font-size="10.2" text-anchor="middle" textLength="23.5" lengthAdjust="spacingAndGlyphs">1.88</text>
<text class="lg" x="618.5" y="650.8" font-size="10.4" text-anchor="middle" textLength="112.5" lengthAdjust="spacingAndGlyphs">TYPICAL BASE DETAIL</text>
</g>
<g filter="url(#th2)">
<text class="tx" x="153.5" y="96.5" font-size="8.3" text-anchor="middle" textLength="6.53" lengthAdjust="spacingAndGlyphs">P</text>
<text class="tx" x="240" y="96.5" font-size="8.3" text-anchor="middle" textLength="6.53" lengthAdjust="spacingAndGlyphs">P</text>
<text class="tx" x="294.5" y="98" font-size="8.3" text-anchor="middle" textLength="6.53" lengthAdjust="spacingAndGlyphs">P</text>
<text class="tx" x="330.5" y="20.5" font-size="8.3" text-anchor="middle" textLength="5.98" lengthAdjust="spacingAndGlyphs">F</text>
<text class="tx" x="347" y="29" font-size="8.3" text-anchor="middle" textLength="14" lengthAdjust="spacingAndGlyphs">DD</text>
<text class="tx" x="319.5" y="96.5" font-size="8.3" text-anchor="middle" textLength="7.62" lengthAdjust="spacingAndGlyphs">G</text>
<text class="tx" x="335.5" y="96.5" font-size="8.3" text-anchor="middle" textLength="14" lengthAdjust="spacingAndGlyphs">CC</text>
<text class="tx" x="531" y="71" font-size="8.3" text-anchor="middle" textLength="6.53" lengthAdjust="spacingAndGlyphs">K</text>
<text class="tx" x="542.5" y="93" font-size="8.3" text-anchor="middle" textLength="8.6" lengthAdjust="spacingAndGlyphs">M</text>
<text class="tx" x="559" y="105" font-size="8.3" text-anchor="middle" textLength="6.53" lengthAdjust="spacingAndGlyphs">B</text>
<text class="tx" x="78.5" y="224.5" font-size="8.3" text-anchor="middle" textLength="7.07" lengthAdjust="spacingAndGlyphs">R</text>
<text class="tx" x="154" y="279" font-size="8.3" text-anchor="middle" textLength="7.07" lengthAdjust="spacingAndGlyphs">N</text>
<text class="tx" x="64.5" y="299.5" font-size="8.3" text-anchor="middle" textLength="6.53" lengthAdjust="spacingAndGlyphs">S</text>
<text class="tx" x="201" y="220" font-size="8.3" text-anchor="middle" textLength="5.98" lengthAdjust="spacingAndGlyphs">T</text>
<text class="tx" x="242" y="279" font-size="8.3" text-anchor="middle" textLength="7.07" lengthAdjust="spacingAndGlyphs">N</text>
<text class="tx" x="252.5" y="222" font-size="8.3" text-anchor="middle" textLength="7.07" lengthAdjust="spacingAndGlyphs">U</text>
<text class="tx" x="297" y="281" font-size="8.3" text-anchor="middle" textLength="7.07" lengthAdjust="spacingAndGlyphs">N</text>
<text class="tx" x="431.5" y="220" font-size="8.3" text-anchor="middle" textLength="6.53" lengthAdjust="spacingAndGlyphs">A</text>
<text class="tx" x="328.5" y="279" font-size="8.3" text-anchor="middle" textLength="6.53" lengthAdjust="spacingAndGlyphs">E</text>
<text class="tx" x="316" y="342" font-size="8.3" text-anchor="middle" textLength="7.07" lengthAdjust="spacingAndGlyphs">D</text>
<text class="tx" x="367.5" y="346" font-size="8.3" text-anchor="middle" textLength="13.5" lengthAdjust="spacingAndGlyphs">AA</text>
<text class="tx" x="333" y="357.5" font-size="8.3" text-anchor="middle" textLength="12" lengthAdjust="spacingAndGlyphs">BB</text>
<text class="tx" x="462" y="344" font-size="8.3" text-anchor="middle" textLength="4.9" lengthAdjust="spacingAndGlyphs">J</text>
<text class="tx" x="500.5" y="344" font-size="8.3" text-anchor="middle" textLength="7.07" lengthAdjust="spacingAndGlyphs">H</text>
<text class="tx" x="534" y="283.5" font-size="8.3" text-anchor="middle" textLength="7.07" lengthAdjust="spacingAndGlyphs">C</text>
<text class="tx" x="553.5" y="223.2" font-size="8.6" text-anchor="middle" textLength="23.3" lengthAdjust="spacingAndGlyphs">1.50</text>
<text class="tx" x="233" y="380.5" font-size="8.2" text-anchor="middle" textLength="12" lengthAdjust="spacingAndGlyphs">FF</text>
<text class="tx" x="234" y="471.3" font-size="8.4" text-anchor="middle" textLength="16.5" lengthAdjust="spacingAndGlyphs">GG</text>
<text class="tx" x="123.5" y="397.5" font-size="8.4" text-anchor="middle" textLength="30" lengthAdjust="spacingAndGlyphs">10.00</text>
<text class="tx" x="123" y="431.5" font-size="8.6" text-anchor="middle" textLength="11" lengthAdjust="spacingAndGlyphs">W</text>
<text class="tx" x="367.5" y="380.7" font-size="8" text-anchor="middle" textLength="12.5" lengthAdjust="spacingAndGlyphs">EE</text>
<text class="tx" x="368" y="472" font-size="9" text-anchor="middle" textLength="16.5" lengthAdjust="spacingAndGlyphs">HH</text>
<text class="tx" x="464.5" y="390.8" font-size="9" text-anchor="middle" textLength="7.6" lengthAdjust="spacingAndGlyphs">V</text>
<text class="tx" x="425.5" y="428.8" font-size="8.4" text-anchor="middle" textLength="6.61" lengthAdjust="spacingAndGlyphs">Y</text>
<text class="tx" x="499" y="447.5" font-size="9" text-anchor="middle" textLength="7.6" lengthAdjust="spacingAndGlyphs" transform="rotate(-45 499 447.5)">V</text>
<text class="tx" x="671" y="392.5" font-size="8" text-anchor="middle" textLength="5.77" lengthAdjust="spacingAndGlyphs">Z</text>
<text class="tx" x="634" y="392.5" font-size="8.5" text-anchor="middle" textLength="6.69" lengthAdjust="spacingAndGlyphs" font-weight="bold">X</text>
</g>
</svg>
</body></html>
